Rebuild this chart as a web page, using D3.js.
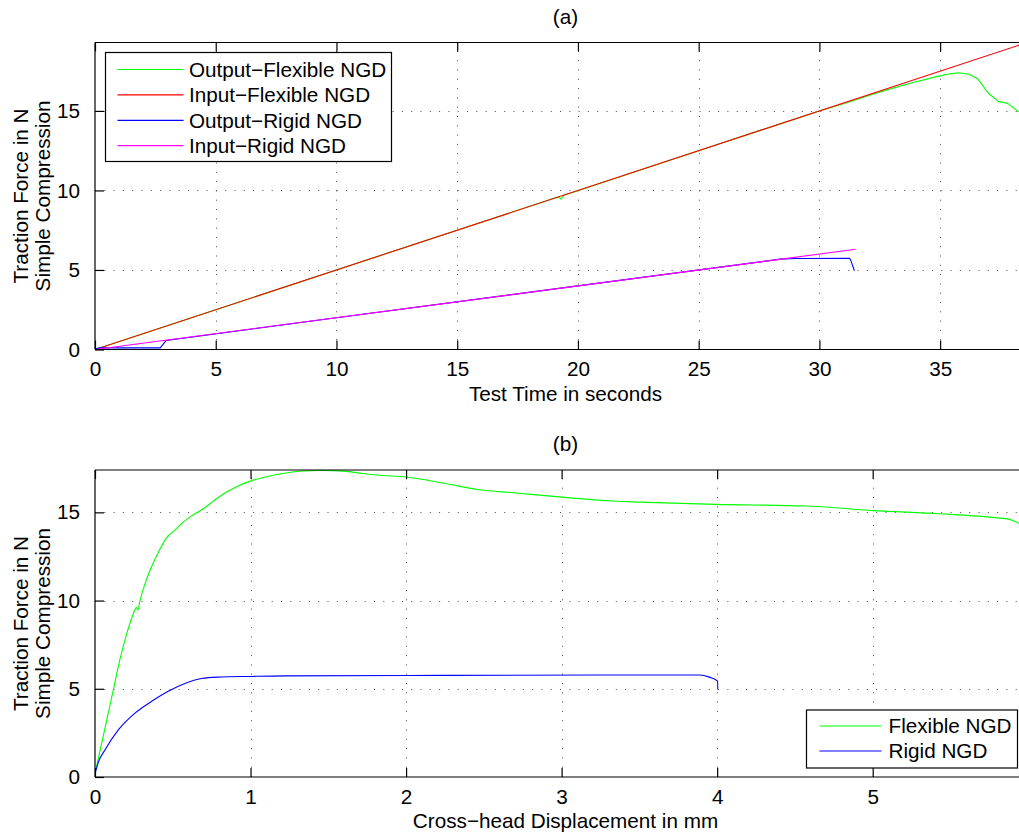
<!DOCTYPE html>
<html>
<head>
<meta charset="utf-8">
<script src="https://cdn.jsdelivr.net/npm/d3@7"></script>
<style>
  html, body { margin: 0; padding: 0; background: #fff; }
  svg { display: block; }
  text { font-family: "Liberation Sans", Arial, Helvetica, sans-serif; fill: #000; }
</style>
</head>
<body>
<svg id="chart" width="1019" height="832"></svg>
<script>
// ---------- Panel (a): force vs test time ----------
const aXTicks = [0, 5, 10, 15, 20, 25, 30, 35];
const aYTicks = [0, 5, 10, 15];
const aLegend = ["Output\u2212Flexible NGD", "Input\u2212Flexible NGD", "Output\u2212Rigid NGD", "Input\u2212Rigid NGD"];

const flexOutTime  = [0, 5, 10, 15, 19.2, 19.3, 19.4, 25, 29.96, 31.0, 32.4, 33.8, 34.9, 35.4, 35.75, 36.2, 36.57, 36.98, 37.4, 37.8, 38.2, 38.4];
const flexOutForce = [0, 2.5, 5.0, 7.5, 9.6, 9.45, 9.68, 12.5, 14.98, 15.45, 16.15, 16.75, 17.17, 17.33, 17.4, 17.3, 17.0, 16.14, 15.6, 15.47, 15.0, 14.85];

const flexInTime   = [0, 38.6];
const flexInForce  = [0, 19.3];

const rigidOutTime  = [0, 0.2, 2.7, 2.95, 10, 20, 28.4, 29.0, 31.25, 31.3, 31.45];
const rigidOutForce = [0.05, 0.1, 0.1, 0.57, 2.0, 4.0, 5.68, 5.72, 5.74, 5.6, 4.95];

const rigidInTime  = [0, 31.5];
const rigidInForce = [0, 6.3];

// ---------- Panel (b): force vs cross-head displacement ----------
const bXTicks = [0, 1, 2, 3, 4, 5];
const bYTicks = [0, 5, 10, 15];
const bLegend = ["Flexible NGD", "Rigid NGD"];

const flexDisp  = [0, 0.03, 0.06, 0.118, 0.16, 0.2, 0.24, 0.268, 0.275, 0.289, 0.32, 0.353, 0.4, 0.46, 0.52, 0.567, 0.63, 0.696, 0.77, 0.846, 0.92, 1.0, 1.145, 1.317, 1.45, 1.617, 1.72, 1.83, 2.0, 2.26, 2.47, 2.69, 3.0, 3.33, 3.5, 3.99, 4.57, 5.0, 5.43, 5.75, 5.88, 5.93, 6.0];
const flexForce = [0.2, 1.4, 2.6, 4.95, 6.65, 8.0, 9.1, 9.6, 9.45, 10.0, 10.9, 11.7, 12.6, 13.55, 14.05, 14.45, 14.85, 15.2, 15.7, 16.15, 16.5, 16.77, 17.1, 17.33, 17.37, 17.32, 17.2, 17.1, 17.0, 16.62, 16.28, 16.11, 15.86, 15.64, 15.58, 15.45, 15.36, 15.1, 14.92, 14.73, 14.6, 14.41, 14.2];

const rigidDisp  = [0, 0.01, 0.02, 0.064, 0.15, 0.257, 0.364, 0.471, 0.578, 0.685, 0.79, 1.0, 1.22, 2.0, 3.24, 3.886, 3.95, 4.003, 4.004];
const rigidForce = [0.2, 0.5, 0.8, 1.53, 2.67, 3.62, 4.29, 4.86, 5.3, 5.58, 5.66, 5.7, 5.73, 5.75, 5.78, 5.78, 5.66, 5.43, 4.96];

const yLabelLines = ["Traction Force in N", "Simple Compression"];

// ---------- drawing ----------
const svg = d3.select("#chart");
const FONT = 20.7;

function zip(xs, ys) { return xs.map((x, i) => [x, ys[i]]); }

function panel(cfg) {
  const x = d3.scaleLinear().domain(cfg.xDomain).range([cfg.left, cfg.right]);
  const y = d3.scaleLinear().domain(cfg.yDomain).range([cfg.bottom, cfg.top]);
  const g = svg.append("g");
  const clipId = "clip" + cfg.id;
  g.append("clipPath").attr("id", clipId).append("rect")
    .attr("x", cfg.left).attr("y", cfg.top)
    .attr("width", cfg.right - cfg.left).attr("height", cfg.bottom - cfg.top);

  // grid
  const grid = g.append("g").attr("stroke", "#4a4a4a").attr("stroke-width", 1)
    .attr("stroke-dasharray", "1,8.3").attr("fill", "none");
  cfg.xTicks.filter(v => v > cfg.xDomain[0]).forEach(v => {
    grid.append("line").attr("x1", Math.round(x(v)) + 0.5).attr("x2", Math.round(x(v)) + 0.5)
      .attr("y1", cfg.bottom).attr("y2", cfg.top);
  });
  cfg.yTicks.filter(v => v > cfg.yDomain[0]).forEach(v => {
    grid.append("line").attr("y1", Math.round(y(v)) + 0.5).attr("y2", Math.round(y(v)) + 0.5)
      .attr("x1", cfg.left).attr("x2", cfg.right);
  });

  // series
  const line = d3.line().x(d => x(d[0])).y(d => y(d[1])).curve(cfg.curve || d3.curveLinear);
  const series = g.append("g").attr("clip-path", `url(#${clipId})`);
  cfg.series.forEach(s => {
    series.append("path").datum(zip(s.xs, s.ys)).attr("d", line)
      .attr("fill", "none").attr("stroke", s.color).attr("stroke-width", 1.1)
      .attr("stroke-linejoin", "round");
  });

  // axes (box with inward ticks)
  const tickLen = 9;
  const axB = d3.axisBottom(x).tickValues(cfg.xTicks).tickSize(-tickLen).tickPadding(tickLen + 3)
    .tickFormat(d3.format("d"));
  const axT = d3.axisTop(x).tickValues(cfg.xTicks).tickSize(-tickLen).tickFormat("");
  const axL = d3.axisLeft(y).tickValues(cfg.yTicks).tickSize(-tickLen).tickPadding(tickLen + 6)
    .tickFormat(d3.format("d"));
  const axR = d3.axisRight(y).tickValues(cfg.yTicks).tickSize(-tickLen).tickFormat("");

  function style(sel) {
    sel.selectAll(".domain").attr("stroke", "#000").attr("stroke-width", 1.2);
    sel.selectAll(".tick line").attr("stroke", "#000").attr("stroke-width", 1.2);
    sel.selectAll(".tick text").attr("font-size", FONT)
      .attr("font-family", '"Liberation Sans", Arial, sans-serif').attr("fill", "#000");
  }
  g.append("g").attr("transform", `translate(0,${cfg.bottom})`).call(axB).call(style)
    .call(s => s.selectAll(".domain").attr("d", `M${cfg.left},0H${cfg.right}`));
  g.append("g").attr("transform", `translate(0,${cfg.top})`).call(axT).call(style)
    .call(s => s.selectAll(".domain").attr("d", `M${cfg.left},0H${cfg.right}`));
  g.append("g").attr("transform", `translate(${cfg.left},0)`).call(axL).call(style)
    .call(s => s.selectAll(".domain").attr("d", `M0,${cfg.bottom}V${cfg.top}`));
  g.append("g").attr("transform", `translate(${cfg.right},0)`).call(axR).call(style)
    .call(s => s.selectAll(".domain").attr("d", `M0,${cfg.bottom}V${cfg.top}`));

  const cx = (cfg.left + cfg.right) / 2;
  // title
  g.append("text").attr("x", cx).attr("y", cfg.top - 19).attr("text-anchor", "middle")
    .attr("font-size", FONT).text(cfg.title);
  // x label
  g.append("text").attr("x", cx).attr("y", cfg.bottom + 51).attr("text-anchor", "middle")
    .attr("font-size", FONT).text(cfg.xLabel);
  // y label (two lines)
  const cy = (cfg.top + cfg.bottom) / 2;
  yLabelLines.forEach((t, i) => {
    g.append("text").attr("transform", `translate(${28 + i * 21.5},${cy}) rotate(-90)`)
      .attr("text-anchor", "middle").attr("font-size", FONT).text(t);
  });

  // legend
  const L = cfg.legend;
  const lg = g.append("g");
  lg.append("rect").attr("x", L.x).attr("y", L.y).attr("width", L.w).attr("height", L.h)
    .attr("fill", "#fff").attr("stroke", "#000").attr("stroke-width", 1.2);
  L.items.forEach((name, i) => {
    const yy = L.y + L.first + i * L.step;
    lg.append("line").attr("x1", L.x + L.lx1).attr("x2", L.x + L.lx2)
      .attr("y1", yy).attr("y2", yy).attr("stroke", L.colors[i]).attr("stroke-width", 1.2);
    lg.append("text").attr("x", L.x + L.tx).attr("y", yy).attr("dy", "0.36em")
      .attr("font-size", FONT).text(name);
  });
}

panel({
  id: "a", left: 95, right: 1036, top: 42.5, bottom: 349.5,
  xDomain: [0, 38.97], yDomain: [0, 19.3],
  xTicks: aXTicks, yTicks: aYTicks,
  title: "(a)", xLabel: "Test Time in seconds",
  series: [
    { xs: flexOutTime, ys: flexOutForce, color: "#00ff00" },
    { xs: flexInTime, ys: flexInForce, color: "#ff0000" },
    { xs: rigidOutTime, ys: rigidOutForce, color: "#0000ff" },
    { xs: rigidInTime, ys: rigidInForce, color: "#ff00ff" }
  ],
  legend: { x: 105.5, y: 52.5, w: 286, h: 109, first: 17, step: 25.4, lx1: 12, lx2: 78, tx: 83.5,
            items: aLegend, colors: ["#00ff00", "#ff0000", "#0000ff", "#ff00ff"] }
});

panel({
  id: "b", left: 95, right: 1036, top: 470, bottom: 777,
  xDomain: [0, 6.05], yDomain: [0, 17.4],
  xTicks: bXTicks, yTicks: bYTicks, curve: d3.curveMonotoneX,
  title: "(b)", xLabel: "Cross\u2212head Displacement in mm",
  series: [
    { xs: flexDisp, ys: flexForce, color: "#00ff00" },
    { xs: rigidDisp, ys: rigidForce, color: "#0000ff" }
  ],
  legend: { x: 806.5, y: 710, w: 211, h: 58, first: 16, step: 25, lx1: 13, lx2: 75, tx: 82,
            items: bLegend, colors: ["#00ff00", "#0000ff"] }
});
</script>
</body>
</html>
